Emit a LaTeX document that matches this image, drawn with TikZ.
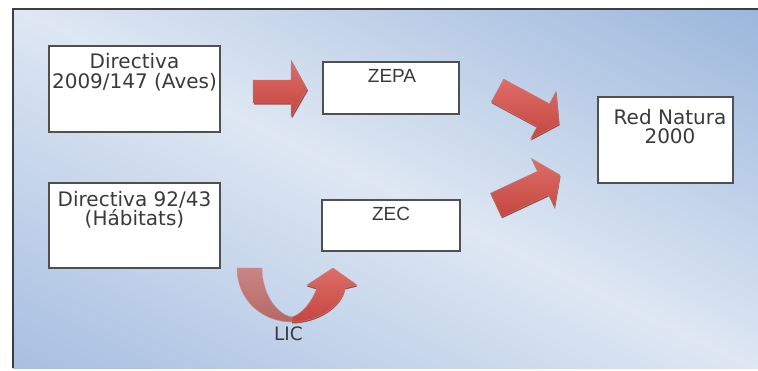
\documentclass[tikz,border=0pt]{standalone}
\usepackage{fontspec}
\newfontfamily\dvfont{DejaVu Sans}
\newfontfamily\libfont{Liberation Sans}
\definecolor{bgdark}{HTML}{88A9D5}
\definecolor{bgmid}{HTML}{DEE7F3}
\definecolor{bgleft}{HTML}{98B4DC}
\definecolor{framec}{HTML}{3F3F3F}
\definecolor{boxline}{HTML}{505050}
\definecolor{txtc}{HTML}{3A3A3A}
\definecolor{arrowlight}{HTML}{DE6E68}
\definecolor{arrowmain}{HTML}{C4463F}
\definecolor{arrowdark}{HTML}{8C2B27}
\definecolor{armmuted}{HTML}{B56866}
\definecolor{armmutedlight}{HTML}{C98684}
\begin{document}
\begin{tikzpicture}[x=1pt,y=-1pt,
  box/.style={draw=boxline,line width=1.3pt,fill=white,inner sep=0pt,outer sep=0pt,anchor=north west},
  dvtxt/.style={text=txtc,inner sep=0pt,anchor=base,font=\dvfont\fontsize{20}{20}\selectfont},
  libtxt/.style={text=txtc,inner sep=0pt,anchor=base,font=\libfont\fontsize{19}{19}\selectfont},
  lictxt/.style={text=txtc,inner sep=0pt,anchor=base,font=\dvfont\fontsize{18.5}{18.5}\selectfont},
  arrowshadow/.style={fill=arrowdark!85},
  arrowbody/.style={top color=arrowlight,bottom color=arrowmain,draw=arrowdark!60,line width=0.4pt}
]
\useasboundingbox (0,0) rectangle (758,370);
\fill[white] (0,0) rectangle (758,370);
% background
\begin{scope}
\clip (13,9) rectangle (758,368);
\shade[top color=bgdark,bottom color=bgleft,middle color=bgmid,shading angle=-26] (-35,-232) rectangle (805,608);
\end{scope}
\draw[framec,line width=2pt] (13,368) -- (13,9) -- (758,9);

% boxes
\node[box,minimum width=171pt,minimum height=86pt] (aves) at (49,46) {};
\node[box,minimum width=136pt,minimum height=52pt] (zepa) at (323,62) {};
\node[box,minimum width=135pt,minimum height=86pt] (natura) at (598,97) {};
\node[box,minimum width=171pt,minimum height=85pt] (habitats) at (49,183) {};
\node[box,minimum width=138pt,minimum height=51pt] (zec) at (322,200) {};

% texts
\node[dvtxt] (avesA) at (134.5,68.3) {Directiva};
\node[dvtxt] (avesB) at (134.5,88.3) {2009/147 (Aves)};
\node[libtxt] (zepaT) at (392,82.7) {ZEPA};
\node[dvtxt] (naturaA) at (670,124.7) {Red Natura};
\node[dvtxt] (naturaB) at (670,143.5) {2000};
\node[dvtxt] (habA) at (134.5,206) {Directiva 92/43};
\node[dvtxt] (habB) at (134.5,225) {(Hábitats)};
\node[libtxt] (zecT) at (391,220) {ZEC};
\node[lictxt] (lic) at (288.5,340.7) {LIC};

% right arrow
\fill[arrowshadow] (254,81.5) -- (292,81.5) -- (292,61.5) -- (308,90.5) -- (292,118.5) -- (292,104.5) -- (254,104.5) -- cycle;
\shade[arrowbody] (253,80) -- (291,80) -- (291,60) -- (307,89) -- (291,117) -- (291,103) -- (253,103) -- cycle;

% diagonal arrow down-right
\fill[arrowshadow] (504.2,80.6) -- (550,105.3) -- (556.6,92.9) -- (559.6,125.3) -- (531,140.5) -- (537.6,128.1) -- (491.8,103.4) -- cycle;
\shade[arrowbody] (503.7,79.1) -- (549.5,103.8) -- (556.1,91.4) -- (559.1,123.8) -- (530.5,139.0) -- (537.1,126.6) -- (491.3,101.9) -- cycle;

% diagonal arrow up-right
\fill[arrowshadow] (491,194.7) -- (538.1,172.7) -- (532.1,160.1) -- (560.5,176.5) -- (555,208.9) -- (549.1,196.3) -- (502,218.3) -- cycle;
\shade[arrowbody] (490.5,193.2) -- (537.6,171.2) -- (531.6,158.6) -- (560,175) -- (554.5,207.4) -- (548.6,194.8) -- (501.5,216.8) -- cycle;

% U-turn arrow (LIC)
\shade[top color=armmutedlight,bottom color=armmuted,draw=arrowdark!50,line width=0.4pt]
  (237,268) .. controls (237,300) and (262,322) .. (292,322) -- (292,317) .. controls (278,315) and (262,295) .. (262,268) -- cycle;
\fill[arrowshadow] (292,323.5) .. controls (318,323.5) and (343,306.5) .. (345,289.5) -- (357,286.5) -- (333,269.5) -- (307,286.5) -- (317,289.5) .. controls (312,303.5) and (302,315.5) .. (292,318.5) -- cycle;
\shade[arrowbody] (292,322) .. controls (318,322) and (343,305) .. (345,288) -- (357,285) -- (333,268) -- (307,285) -- (317,288) .. controls (312,302) and (302,314) .. (292,317) -- cycle;
\end{tikzpicture}
\end{document}
